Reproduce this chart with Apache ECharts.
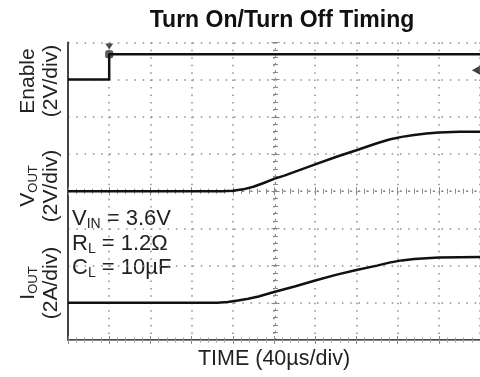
<!DOCTYPE html>
<html>
<head>
<meta charset="utf-8">
<script src="https://cdn.jsdelivr.net/npm/echarts@6/dist/echarts.min.js"></script>
<style>
  html, body { margin: 0; padding: 0; background: #fff; }
  #main { width: 480px; height: 377px; }
</style>
</head>
<body>
<div id="main"></div>
<script>
// time axis in µs (40 µs/div), vertical axis in divisions from the bottom
var enableT = [0, 40, 40, 400];
var enableV = [7.0, 7.0, 7.68, 7.68];
var voutT = [0, 150, 160, 170, 180, 190, 200, 210, 220, 240, 260, 280, 300, 312, 324, 336, 348, 360, 380, 400];
var voutV = [4.0, 4.0, 4.01, 4.05, 4.12, 4.22, 4.33, 4.42, 4.52, 4.72, 4.92, 5.1, 5.29, 5.39, 5.46, 5.51, 5.55, 5.58, 5.6, 5.6];
var ioutT = [0, 145, 155, 165, 175, 185, 200, 220, 240, 260, 280, 300, 312, 324, 336, 348, 360, 400];
var ioutV = [1.0, 1.0, 1.02, 1.06, 1.11, 1.17, 1.29, 1.44, 1.6, 1.75, 1.88, 2.0, 2.08, 2.14, 2.18, 2.2, 2.22, 2.23];
// scope markers: trigger position (top), trigger point, trigger level (right)
var trigPos = [40, 8];
var trigPt = [40, 7.68];
var trigLevel = [396, 7.25];

function pairs(t, v) {
  return t.map(function (x, i) { return [x, v[i]]; });
}

var font = "'Liberation Sans', Arial, Helvetica, sans-serif";
var dotsH = [1.5, 6.8];   // horizontal grid lines, a dot each minor x division
var dotsV = [1.5, 5.94];  // vertical grid lines, a dot each minor y division
var gridGray = "#8c8c8c";

var myChart = echarts.init(document.getElementById("main"));

var centerAxisX = function (inside) {
  return {
    type: "value", min: 0, max: 400, interval: 40,
    position: "bottom", offset: -148.8,
    axisLine: { show: inside, lineStyle: { color: gridGray, width: 1.2, type: dotsH } },
    axisTick: { show: true, inside: inside, length: 4, lineStyle: { color: "#888" } },
    minorTick: { show: true, splitNumber: 5, length: 2.5, lineStyle: { color: "#888" } },
    axisLabel: { show: false }, splitLine: { show: false }
  };
};
var centerAxisY = function (inside) {
  return {
    type: "value", min: 0, max: 8, interval: 1,
    position: "left", offset: -207.5,
    axisLine: { show: inside, lineStyle: { color: gridGray, width: 1.2, type: dotsV } },
    axisTick: { show: true, inside: inside, length: 4, lineStyle: { color: "#888" } },
    minorTick: { show: true, splitNumber: 5, length: 2.5, lineStyle: { color: "#888" } },
    axisLabel: { show: false }, splitLine: { show: false }
  };
};

var richLabel = {
  n: { fontFamily: font, fontSize: 21, lineHeight: 23, fill: "#222" },
  s: { fontFamily: font, fontSize: 13, lineHeight: 12, verticalAlign: "bottom", fill: "#222" }
};

var option = {
  animation: false,
  title: {
    text: "Turn On/Turn Off Timing",
    left: 277, top: 4, textAlign: "center",
    textStyle: { fontFamily: font, fontSize: 23, fontWeight: "bold", color: "#111" }
  },
  grid: { left: 68, top: 42.4, right: -3, bottom: 37 },
  xAxis: [
    {
      type: "value", min: 0, max: 400, interval: 40,
      name: "TIME (40µs/div)", nameLocation: "middle", nameGap: 8,
      nameTextStyle: { fontFamily: font, fontSize: 21.5, color: "#222" },
      axisLine: { lineStyle: { color: "#444", width: 2 } },
      axisTick: { inside: true, length: 4, lineStyle: { color: "#888" } },
      minorTick: { show: true, splitNumber: 5, length: 2.5, lineStyle: { color: "#999" } },
      axisLabel: { show: false },
      splitLine: { show: true, lineStyle: { color: gridGray, width: 1.5, type: dotsV } }
    },
    {
      type: "value", min: 0, max: 400, interval: 40, position: "top",
      axisLine: { lineStyle: { color: "#888", width: 1 } },
      axisTick: { inside: true, length: 4, lineStyle: { color: "#888" } },
      minorTick: { show: true, splitNumber: 5, length: 2.5, lineStyle: { color: "#999" } },
      axisLabel: { show: false }, splitLine: { show: false }
    },
    centerAxisX(true),
    centerAxisX(false)
  ],
  yAxis: [
    {
      type: "value", min: 0, max: 8, interval: 1,
      axisLine: { show: true, lineStyle: { color: "#444", width: 2 } },
      axisTick: { show: false },
      axisLabel: { show: false },
      splitLine: { show: true, lineStyle: { color: gridGray, width: 1.5, type: dotsH } }
    },
    centerAxisY(true),
    centerAxisY(false)
  ],
  graphic: [
    {
      type: "text", x: 40, y: 81, rotation: Math.PI / 2,
      style: {
        text: "{n|Enable}\n{n|(2V/div)}", align: "center", verticalAlign: "middle", rich: richLabel
      }
    },
    {
      type: "text", x: 40, y: 186, rotation: Math.PI / 2,
      style: {
        text: "{n|V}{s|OUT}\n{n|(2V/div)}", align: "center", verticalAlign: "middle", rich: richLabel
      }
    },
    {
      type: "text", x: 40, y: 283, rotation: Math.PI / 2,
      style: {
        text: "{n|I}{s|OUT}\n{n|(2A/div)}", align: "center", verticalAlign: "middle", rich: richLabel
      }
    },
    {
      type: "text", x: 72, y: 207,
      style: {
        text: "{n|V}{s|IN}{n| = 3.6V}\n{n|R}{s|L}{n| = 1.2Ω}\n{n|C}{s|L}{n| = 10µF}",
        align: "left", verticalAlign: "top",
        rich: {
          n: { fontFamily: font, fontSize: 22, lineHeight: 24.5, fill: "#222" },
          s: { fontFamily: font, fontSize: 14, lineHeight: 9, verticalAlign: "bottom", fill: "#222" }
        }
      }
    }
  ],
  series: [
    {
      name: "Enable", type: "line", data: pairs(enableT, enableV),
      showSymbol: false, lineStyle: { color: "#111", width: 2.5 }
    },
    {
      name: "VOUT", type: "line", data: pairs(voutT, voutV),
      showSymbol: false, lineStyle: { color: "#111", width: 2.5 }
    },
    {
      name: "IOUT", type: "line", data: pairs(ioutT, ioutV),
      showSymbol: false, lineStyle: { color: "#111", width: 2.5 }
    },
    {
      type: "scatter", data: [trigPos], symbol: "triangle", symbolRotate: 180,
      symbolSize: [8, 6], symbolOffset: [0, 4], itemStyle: { color: "#222" }
    },
    {
      type: "scatter", data: [trigPt], symbol: "roundRect", symbolSize: 8,
      itemStyle: { color: "#333" }
    },
    {
      type: "scatter", data: [trigLevel], symbol: "triangle", symbolRotate: 90,
      symbolSize: [9, 8], itemStyle: { color: "#111" }
    }
  ]
};

myChart.setOption(option);
</script>
</body>
</html>
